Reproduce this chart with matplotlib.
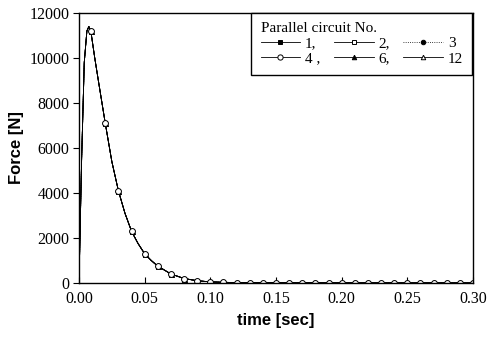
import matplotlib
matplotlib.use("Agg")
import matplotlib.pyplot as plt

# time [sec] and force [N]
time = [0.000, 0.002, 0.004, 0.006, 0.0075, 0.009, 0.012, 0.015, 0.020, 0.025,
        0.030, 0.035, 0.040, 0.045, 0.050, 0.055, 0.060, 0.070, 0.080, 0.090,
        0.100, 0.110, 0.120, 0.130, 0.140, 0.150, 0.160, 0.170, 0.180, 0.190,
        0.200, 0.210, 0.220, 0.230, 0.240, 0.250, 0.260, 0.270, 0.280, 0.290, 0.300]
force = [0, 5500, 9800, 11200, 11400, 11200, 10000, 8900, 7100, 5400,
         4100, 3100, 2300, 1750, 1300, 1000, 750, 400, 200, 100,
         50, 30, 20, 15, 10, 8, 6, 5, 4, 3,
         3, 2, 2, 2, 1, 1, 1, 1, 1, 1, 0]

labels = ["1,", "2,", "3", "4 ,", "6,", "12"]
markers = ["s", "s", "o", "o", "^", "^"]
fills = ["black", "white", "black", "white", "black", "white"]
styles = ["-", "-", ":", "-", "-", "-"]
msizes = [3.0, 3.0, 3.6, 4.2, 3.6, 3.6]

# markers at the 0.01-second steps
mark_idx = [i for i, t in enumerate(time) if t >= 0.009 and (abs(round(t * 100) - t * 100) < 1e-6 or t == 0.009)]

fig = plt.figure(figsize=(4.89, 3.38), dpi=100)
ax = fig.add_axes([79 / 489, 1 - 283 / 338, (473 - 79) / 489, (283 - 13) / 338])

# draw order: filled first, open circle last (on top)
order = [0, 2, 4, 5, 1, 3]
handles = {}
for k in order:
    h, = ax.plot(time, force, color="black", lw=0.6, ls=styles[k],
                 marker=markers[k], markersize=msizes[k], markerfacecolor=fills[k],
                 markeredgecolor="black", markeredgewidth=0.7,
                 markevery=mark_idx, label=labels[k])
    handles[k] = h

ax.set_xlim(0, 0.30)
ax.set_ylim(0, 12000)
ax.set_xticks([0.00, 0.05, 0.10, 0.15, 0.20, 0.25, 0.30])
ax.set_xticklabels(["0.00", "0.05", "0.10", "0.15", "0.20", "0.25", "0.30"])
ax.set_yticks([0, 2000, 4000, 6000, 8000, 10000, 12000])
ax.set_yticklabels(["0", "2000", "4000", "6000", "8000", "10000", "12000"])
for lab in ax.get_xticklabels() + ax.get_yticklabels():
    lab.set_fontfamily("Liberation Serif")
    lab.set_fontsize(11.5)
ax.tick_params(axis="x", direction="in", length=4, width=0.8, pad=6)
ax.tick_params(axis="y", direction="out", length=4, width=0.8, pad=3)
for s in ax.spines.values():
    s.set_linewidth(1.0)

ax.set_xlabel("time [sec]", fontfamily="Liberation Sans", fontweight="bold", fontsize=12, labelpad=4)
ax.set_ylabel("Force [N]", fontfamily="Liberation Sans", fontweight="bold", fontsize=12, labelpad=4)

# column-major order for a 2-row x 3-col legend read row-wise: 1, 2, 3 / 4, 6, 12
leg_order = [0, 3, 1, 4, 2, 5]
leg = ax.legend([handles[i] for i in leg_order], [labels[i] for i in leg_order],
                ncol=3, loc="upper right", borderaxespad=0.0,
                bbox_to_anchor=(0.998, 1.0), title="Parallel circuit No.",
                prop={"family": "Liberation Serif", "size": 11},
                title_fontproperties={"family": "Liberation Serif", "size": 11},
                frameon=True, fancybox=False, edgecolor="black", framealpha=1,
                handlelength=2.6, handletextpad=0.3, columnspacing=0.9,
                labelspacing=0.1, borderpad=0.6, markerscale=0.9)
leg._legend_box.align = "left"
leg.get_frame().set_linewidth(1.0)

fig.savefig("out.png", dpi=100)
